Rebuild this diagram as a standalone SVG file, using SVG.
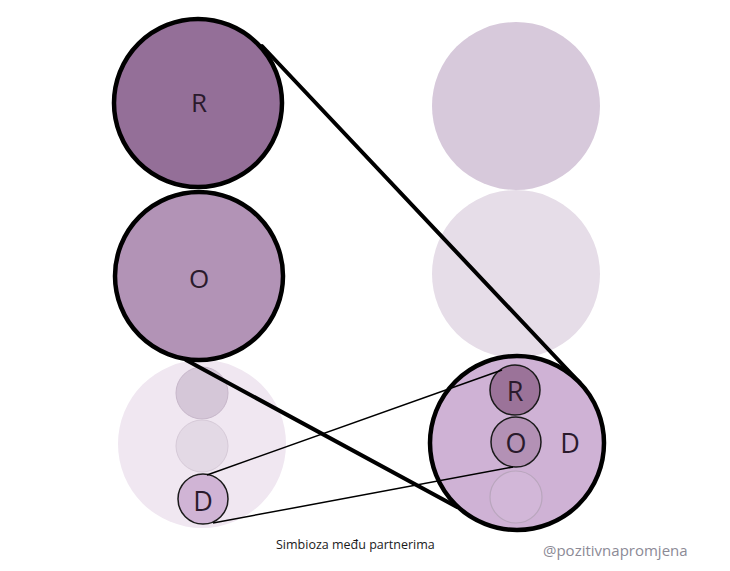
<svg xmlns="http://www.w3.org/2000/svg" width="730" height="571" viewBox="0 0 730 571">
<style>
.lbl{font-family:"Open Sans","Noto Sans","Liberation Sans",sans-serif;fill:#2a1a2c;text-anchor:middle;dominant-baseline:central}
.big{stroke:#000;stroke-width:4.5}
.sm{stroke:#1a1a1a;stroke-width:1.5}
.thick{stroke:#000;stroke-width:4;fill:none;stroke-linecap:round}
.thin{stroke:#000;stroke-width:1.5;fill:none}
</style>
<rect width="730" height="571" fill="#fff"/>
<g id="right-top-1"><circle cx="516" cy="106" r="84" fill="#d7c9db"/></g>
<g id="right-top-2"><circle cx="516" cy="274" r="84" fill="#e6dde8"/></g>
<g id="left-bottom-faint">
<circle cx="202" cy="444" r="84" fill="#f0e7f1"/>
<circle cx="202" cy="393" r="26" fill="#d5c7d8" stroke="#c7b7ca" stroke-width="1"/>
<circle cx="202" cy="446" r="26" fill="#e3d9e5" stroke="#d6cad8" stroke-width="1"/>
</g>
<g id="node-R"><circle cx="198" cy="103" r="84" fill="#946f98" class="big"/><text x="199" y="102" class="lbl" font-size="26">R</text></g>
<g id="node-O"><circle cx="199" cy="276" r="84" fill="#b293b6" class="big"/><text x="199" y="278" class="lbl" font-size="26">O</text></g>
<g id="node-D-small"><circle cx="203" cy="499" r="25" fill="#d0b4d5" class="sm"/><text x="203" y="500" class="lbl" font-size="27">D</text></g>
<g id="node-ROD">
<circle cx="517" cy="443" r="87" fill="#cfb2d5" class="big"/>
<circle cx="516" cy="497" r="26" fill="#d2b7d8" stroke="#b9a6bd" stroke-width="1.2"/>
<circle cx="515" cy="390" r="25" fill="#9b7399" class="sm"/><text x="515" y="390" class="lbl" font-size="27">R</text>
<circle cx="516" cy="442" r="25" fill="#b391b5" class="sm"/><text x="516" y="442" class="lbl" font-size="27">O</text>
<text x="570" y="442" class="lbl" font-size="27">D</text>
</g>
<g id="connectors">
<line x1="262" y1="46" x2="580" y2="383" class="thick"/>
<line x1="186" y1="360" x2="457" y2="507" class="thick"/>
<line x1="207" y1="475" x2="502" y2="370" class="thin"/>
<line x1="213" y1="523" x2="513" y2="467" class="thin"/>
</g>
<g id="captions">
<text x="276" y="549" font-family="Open Sans, Noto Sans, Liberation Sans, sans-serif" font-size="12.5" fill="#1a1a1a">Simbioza među partnerima</text>
<text x="543" y="556" font-family="Open Sans, Noto Sans, Liberation Sans, sans-serif" font-size="15" fill="#8c8a96">@pozitivnapromjena</text>
</g>
</svg>
